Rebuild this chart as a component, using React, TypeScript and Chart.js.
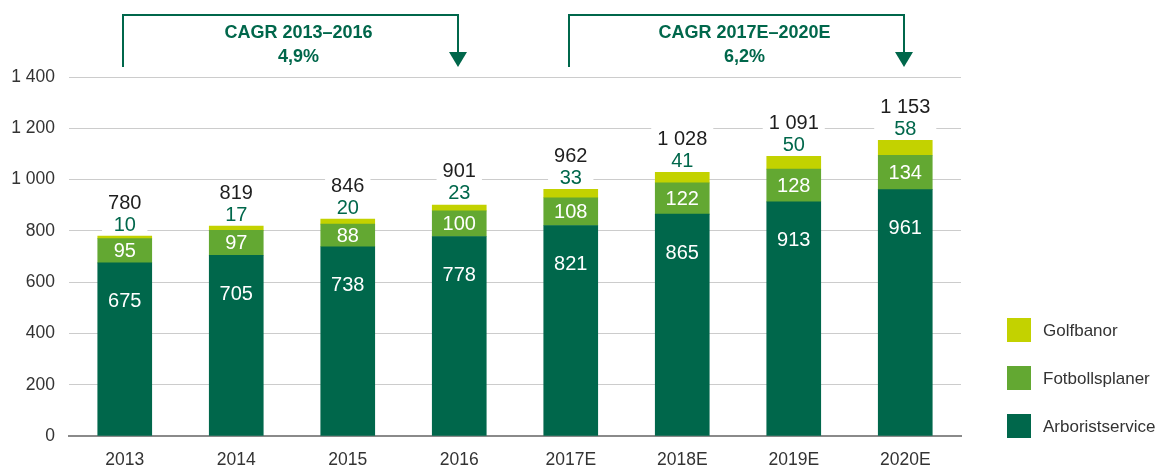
import React, { useEffect, useRef } from 'react';
import { Chart, registerables } from 'chart.js';

Chart.register(...registerables);

const CATEGORIES = ['2013', '2014', '2015', '2016', '2017E', '2018E', '2019E', '2020E'];
const ARBORIST = [675, 705, 738, 778, 821, 865, 913, 961];
const FOTBOLL = [95, 97, 88, 100, 108, 122, 128, 134];
const GOLF = [10, 17, 20, 23, 33, 41, 50, 58];
const TOTALS = [780, 819, 846, 901, 962, 1028, 1091, 1153];
const SERIES_NAMES = ['Arboristservice', 'Fotbollsplaner', 'Golfbanor'];
const CAGR = [
  { from: 0, to: 3, title: 'CAGR 2013–2016', value: '4,9%' },
  { from: 4, to: 7, title: 'CAGR 2017E–2020E', value: '6,2%' },
];

const FONT = '"Liberation Sans", Arial, Helvetica, sans-serif';
const DARK = '#00674B';
const MID = '#63A832';
const LIGHT = '#C3D200';
const TEXT = '#333333';
const COLORS = [DARK, MID, LIGHT];

const fmt = (v: number) => String(v).replace(/\B(?=(\d{3})+(?!\d))/g, ' ');

const overlay = {
  id: 'overlay',
  afterDatasetsDraw(chart: any) {
    const ctx = chart.ctx;
    const xs = chart.scales.x;
    const mA = chart.getDatasetMeta(0);
    const mF = chart.getDatasetMeta(1);
    const mG = chart.getDatasetMeta(2);
    ctx.save();
    ctx.textAlign = 'center';
    ctx.textBaseline = 'middle';
    for (let i = 0; i < CATEGORIES.length; i++) {
      const a = mA.data[i];
      const f = mF.data[i];
      const g = mG.data[i];
      ctx.font = `20px ${FONT}`;
      ctx.fillStyle = '#ffffff';
      ctx.fillText(fmt(ARBORIST[i]), a.x, a.y + 39);
      ctx.fillText(fmt(FOTBOLL[i]), f.x, (f.y + f.base) / 2 + 1);
      const top = g.y;
      const tw = Math.max(ctx.measureText(fmt(TOTALS[i])).width, ctx.measureText(fmt(GOLF[i])).width);
      ctx.fillStyle = '#ffffff';
      ctx.fillRect(g.x - tw / 2 - 6, top - 46, tw + 12, 43);
      ctx.fillStyle = DARK;
      ctx.fillText(fmt(GOLF[i]), g.x, top - 11);
      ctx.fillStyle = '#1e1e1e';
      ctx.fillText(fmt(TOTALS[i]), g.x, top - 33);
    }

    // CAGR brackets
    ctx.strokeStyle = DARK;
    ctx.fillStyle = DARK;
    ctx.lineWidth = 2;
    for (const c of CAGR) {
      const x1 = Math.round(xs.getPixelForValue(c.from)) - 2;
      const x2 = Math.round(xs.getPixelForValue(c.to)) - 1;
      ctx.beginPath();
      ctx.moveTo(x1, 67);
      ctx.lineTo(x1, 15);
      ctx.lineTo(x2, 15);
      ctx.lineTo(x2, 53);
      ctx.stroke();
      ctx.beginPath();
      ctx.moveTo(x2 - 9, 52);
      ctx.lineTo(x2 + 9, 52);
      ctx.lineTo(x2, 67);
      ctx.closePath();
      ctx.fill();
      ctx.font = `bold 18px ${FONT}`;
      const cx = (x1 + x2) / 2 + 8;
      ctx.fillText(c.title, cx, 33);
      ctx.fillText(c.value, cx, 57);
    }

    // Legend
    const order = [2, 1, 0];
    order.forEach((di, k) => {
      const cy = 330 + k * 48;
      ctx.fillStyle = COLORS[di];
      ctx.fillRect(1007, cy - 12, 24, 24);
      ctx.fillStyle = TEXT;
      ctx.font = `17px ${FONT}`;
      ctx.textAlign = 'left';
      ctx.fillText(SERIES_NAMES[di], 1043, cy + 1);
      ctx.textAlign = 'center';
    });
    ctx.restore();
  },
};

export default function App() {
  const ref = useRef<HTMLCanvasElement | null>(null);
  useEffect(() => {
    document.body.style.margin = '0';
    const chart = new Chart(ref.current as HTMLCanvasElement, {
      type: 'bar',
      data: {
        labels: CATEGORIES,
        datasets: [
          { label: SERIES_NAMES[0], data: ARBORIST, backgroundColor: DARK },
          { label: SERIES_NAMES[1], data: FOTBOLL, backgroundColor: MID },
          { label: SERIES_NAMES[2], data: GOLF, backgroundColor: LIGHT },
        ],
      },
      options: {
        responsive: false,
        animation: false,
        layout: { padding: { top: 77, right: 204, left: 0, bottom: 0 } },
        datasets: { bar: { barThickness: 54 } },
        plugins: { legend: { display: false }, tooltip: { enabled: false } },
        scales: {
          x: {
            stacked: true,
            grid: { display: false, drawTicks: false },
            border: { display: true, color: '#8a8a8a', width: 2 },
            ticks: { color: TEXT, font: { family: FONT, size: 17.5 }, padding: 14 },
            afterFit: (s: any) => { s.height = 30; },
          },
          y: {
            stacked: true,
            min: 0,
            max: 1400,
            grid: { color: '#cccccc', drawTicks: false, lineWidth: 1 },
            border: { display: false },
            ticks: {
              stepSize: 200,
              color: TEXT,
              font: { family: FONT, size: 17.5 },
              padding: 14,
              callback: (v: any) => fmt(Number(v)),
            },
            afterFit: (s: any) => { s.width = 69; },
          },
        },
      },
      plugins: [overlay],
    });
    return () => chart.destroy();
  }, []);
  return (
    <div style={{ width: 1165, height: 466 }}>
      <canvas ref={ref} width={1165} height={466} />
    </div>
  );
}
